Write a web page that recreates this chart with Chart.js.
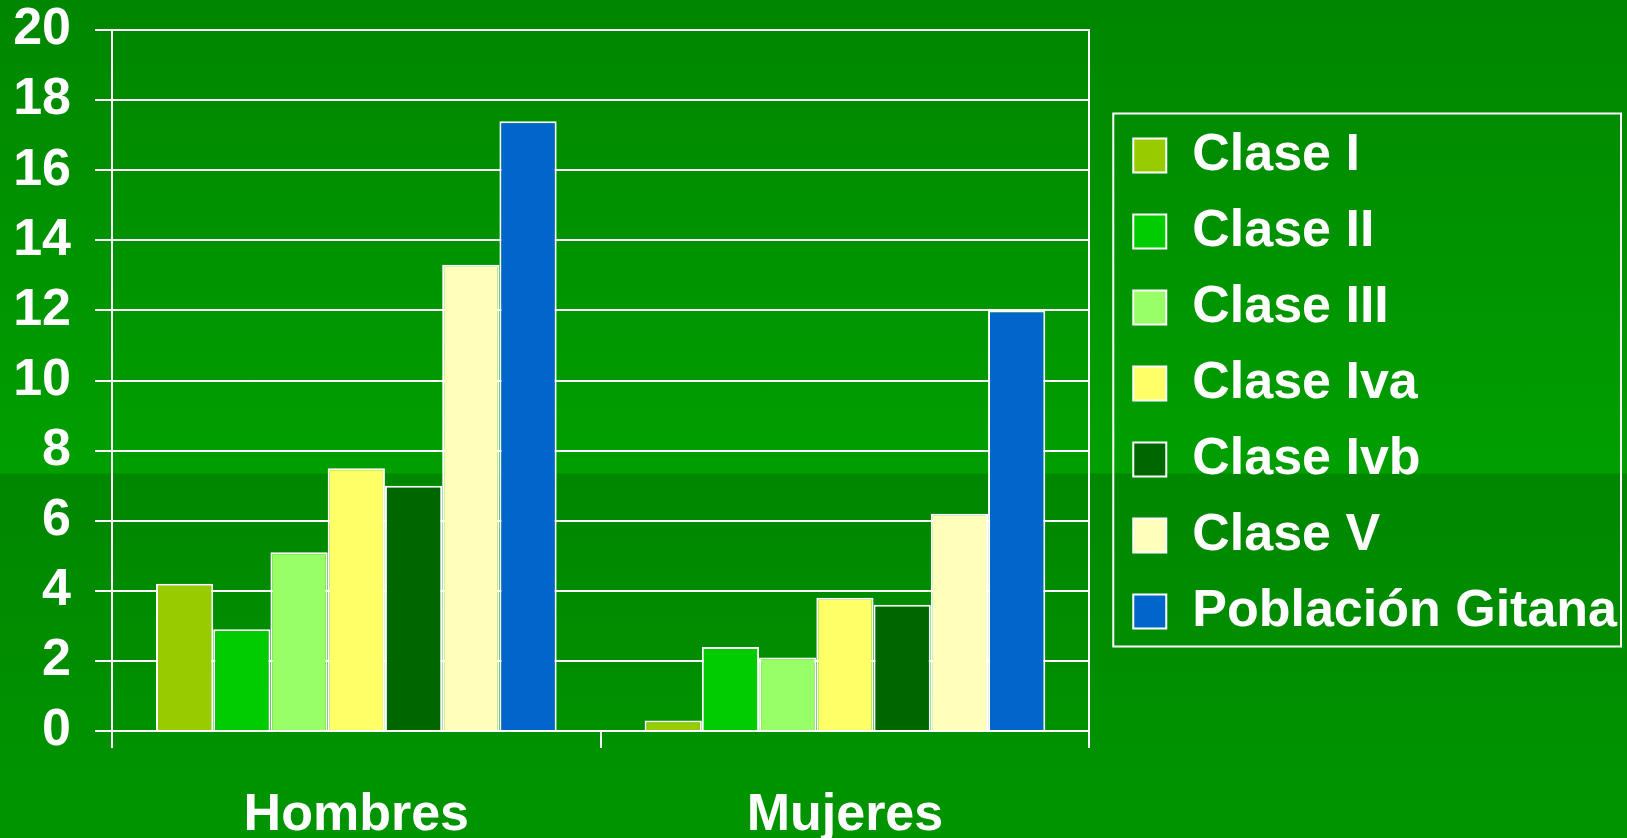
<!DOCTYPE html>
<html>
<head>
<meta charset="utf-8">
<script src="https://cdn.jsdelivr.net/npm/chart.js@4.4.1/dist/chart.umd.min.js"></script>
<style>
  html, body { margin: 0; padding: 0; }
  body {
    width: 1627px; height: 838px; overflow: hidden;
    background: linear-gradient(to bottom, #008600 0px, #009f00 473px, #008700 474px, #009500 838px);
  }
  #wrap { position: relative; width: 1627px; height: 838px; }
</style>
</head>
<body>
<div id="wrap"><canvas id="c"></canvas></div>
<script>
// ---- data ----
const categories = ['Hombres', 'Mujeres'];
const seriesNames = ['Clase I', 'Clase II', 'Clase III', 'Clase Iva', 'Clase Ivb', 'Clase V', 'Población Gitana'];
const claseI    = [4.2, 0.3];
const claseII   = [2.9, 2.4];
const claseIII  = [5.1, 2.1];
const claseIVa  = [7.5, 3.8];
const claseIVb  = [7.0, 3.6];
const claseV    = [13.3, 6.2];
const gitana    = [17.4, 12.0];
const yTicks = [0, 2, 4, 6, 8, 10, 12, 14, 16, 18, 20];

const seriesValues = [claseI, claseII, claseIII, claseIVa, claseIVb, claseV, gitana];
const seriesColors = ['#99CC00', '#00CC00', '#99FF66', '#FFFF66', '#006600', '#FFFFBB', '#0066CC'];

const FONT = "'Liberation Sans', Arial, sans-serif";

const legendShift = {
  id: 'legendShift',
  afterLayout(chart) {
    if (chart.legend) { chart.legend.top += 6; }
  }
};

const legendFrame = {
  id: 'legendFrame',
  afterDraw(chart) {
    const lg = chart.legend;
    if (!lg || !lg.legendHitBoxes || !lg.legendHitBoxes.length) return;
    const hb = lg.legendHitBoxes;
    const first = hb[0], last = hb[hb.length - 1];
    const c1 = first.top + first.height / 2;
    const c7 = last.top + last.height / 2;
    const ctx = chart.ctx;
    ctx.save();
    ctx.strokeStyle = '#ffffff';
    ctx.lineWidth = 2;
    const left = first.left - 20;
    const right = chart.width - 6;
    const top = c1 - 42;
    const bottom = c7 + 35;
    ctx.strokeRect(left, top, right - left, bottom - top);
    ctx.restore();
  }
};

new Chart(document.getElementById('c'), {
  type: 'bar',
  data: {
    labels: categories,
    datasets: seriesNames.map((name, i) => ({
      label: name,
      data: seriesValues[i],
      backgroundColor: seriesColors[i],
      borderColor: '#ffffff',
      borderWidth: 2,
      barPercentage: 1.0,
      categoryPercentage: 0.82
    }))
  },
  options: {
    responsive: true,
    maintainAspectRatio: false,
    animation: false,
    layout: { padding: { left: 13, right: 0, top: 0, bottom: 0 } },
    plugins: {
      tooltip: { enabled: false },
      legend: {
        position: 'right',
        fullSize: false,
        maxWidth: 700,
        labels: {
          color: '#ffffff',
          font: { family: FONT, size: 52, weight: 'bold' },
          boxWidth: 33,
          boxHeight: 34,
          padding: 24
        }
      }
    },
    scales: {
      x: {
        grid: {
          display: true,
          offset: true,
          drawOnChartArea: false,
          drawTicks: true,
          tickLength: 17,
          color: '#ffffff',
          lineWidth: 2
        },
        border: { display: true, color: '#ffffff', width: 2 },
        ticks: {
          color: '#ffffff',
          font: { family: FONT, size: 52, weight: 'bold', lineHeight: 1.1 },
          padding: 39,
          maxRotation: 0
        },
        afterFit: (scale) => { scale.height = 107; }
      },
      y: {
        min: 0,
        max: 20,
        afterBuildTicks: (scale) => { scale.ticks = yTicks.map(v => ({ value: v })); },
        grid: {
          color: '#ffffff',
          lineWidth: 2,
          drawTicks: true,
          tickLength: 17
        },
        border: { display: true, color: '#ffffff', width: 2 },
        ticks: {
          color: '#ffffff',
          font: { family: FONT, size: 52, weight: 'bold' },
          padding: 24,
          autoSkip: false
        },
        afterFit: (scale) => { scale.width = 99; scale.paddingTop = 30; scale.paddingBottom = 30; }
      },
      yRight: {
        position: 'right',
        display: true,
        grid: { display: false },
        ticks: { display: false },
        border: { display: true, color: '#ffffff', width: 2 },
        afterFit: (scale) => { scale.width = 20; scale.paddingTop = 0; scale.paddingBottom = 0; }
      }
    }
  },
  plugins: [legendShift, legendFrame]
});
</script>
</body>
</html>
